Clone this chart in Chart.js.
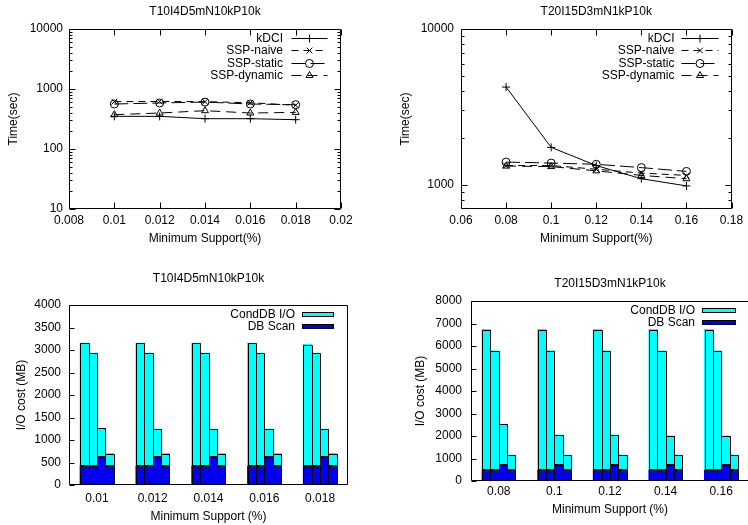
<!DOCTYPE html>
<html>
<head>
<meta charset="utf-8">
<title>SSP run time and I/O cost</title>
<script src="https://cdn.jsdelivr.net/npm/chart.js@4.4.1/dist/chart.umd.min.js"></script>
<style>
  html, body { margin: 0; padding: 0; background: #fff; overflow: hidden; }
  #page { position: relative; width: 748px; height: 525px; overflow: hidden; }
  .panel { position: absolute; }
</style>
</head>
<body>
<div id="page">
  <div class="panel" style="left:0;top:0;width:374px;height:262px"><canvas id="tl"></canvas></div>
  <div class="panel" style="left:374px;top:0;width:374px;height:262px"><canvas id="tr"></canvas></div>
  <div class="panel" style="left:0;top:262px;width:374px;height:263px"><canvas id="bl"></canvas></div>
  <div class="panel" style="left:374px;top:262px;width:378px;height:263px"><canvas id="br"></canvas></div>
</div>
<script>
// Run time, T10I4D5mN10kP10k
const tlSupport = [0.01, 0.012, 0.014, 0.016, 0.018];
const tlKdci    = [350, 350, 320, 320, 308];
const tlNaive   = [615, 620, 615, 590, 535];
const tlStatic  = [562, 585, 605, 562, 548];
const tlDynamic = [373, 398, 435, 398, 408];
const tlYTicks  = [10, 100, 1000, 10000];

// Run time, T20I15D3mN1kP10k
const trSupport = [0.08, 0.1, 0.12, 0.14, 0.16];
const trKdci    = [4240, 1740, 1330, 1095, 985];
const trNaive   = [1330, 1330, 1260, 1190, 1150];
const trStatic  = [1400, 1380, 1355, 1290, 1220];
const trDynamic = [1320, 1310, 1230, 1150, 1095];
const trYTicks  = [1000, 10000];

// I/O cost, T10I4D5mN10kP10k: four bars per support value
const blSupport  = ['0.01', '0.012', '0.014', '0.016', '0.018'];
const blScanBar1 = [415, 415, 415, 415, 415];
const blCondBar1 = [2735, 2735, 2735, 2735, 2705];
const blScanBar2 = [415, 415, 415, 415, 415];
const blCondBar2 = [2515, 2515, 2515, 2515, 2515];
const blScanBar3 = [615, 615, 615, 615, 615];
const blCondBar3 = [645, 625, 625, 625, 625];
const blScanBar4 = [415, 415, 415, 415, 415];
const blCondBar4 = [285, 285, 285, 285, 285];

// I/O cost, T20I15D3mN1kP10k
const brSupport  = ['0.08', '0.1', '0.12', '0.14', '0.16'];
const brScanBar1 = [475, 475, 475, 475, 475];
const brCondBar1 = [6255, 6255, 6255, 6255, 6255];
const brScanBar2 = [475, 475, 475, 475, 475];
const brCondBar2 = [5305, 5305, 5305, 5305, 5305];
const brScanBar3 = [710, 710, 710, 710, 710];
const brCondBar3 = [1810, 1330, 1330, 1290, 1290];
const brScanBar4 = [475, 475, 475, 475, 475];
const brCondBar4 = [675, 675, 675, 675, 675];

const FONT = '"Liberation Sans", Arial, Helvetica, sans-serif';
Chart.defaults.font.family = FONT;
Chart.defaults.font.size = 12;
Chart.defaults.color = '#000';
Chart.defaults.animation = false;

const CYAN = '#00ffff';
const BLUE = '#0000ee';

// crisp one-pixel outlines on the bars the library placed
const barOutline = {
    id: 'barOutline',
    afterDatasetsDraw: function (chart) {
        const ctx = chart.ctx;
        ctx.save();
        ctx.strokeStyle = '#000';
        ctx.lineWidth = 1;
        ctx.setLineDash([]);
        ctx.beginPath();
        chart.data.datasets.forEach(function (ds, i) {
            chart.getDatasetMeta(i).data.forEach(function (el) {
                const l = Math.round(el.x - el.width / 2), r = Math.round(el.x + el.width / 2);
                const t = Math.round(el.y), b = Math.round(el.base);
                ctx.rect(l + 0.5, t + 0.5, r - l, b - t - 1);
            });
        });
        ctx.stroke();
        ctx.restore();
    }
};

// gnuplot-like frame: box round the plot, ticks pointing inward
const gnuFrame = {
    id: 'gnuFrame',
    afterDatasetsDraw: function (chart, args, opts) {
        const ctx = chart.ctx;
        const a = chart.chartArea;
        const xs = chart.scales.x;
        const ys = chart.scales.y;
        const L = Math.round(a.left) + 0.5, R = Math.round(a.right) - 0.5;
        const T = Math.round(a.top) + 0.5, B = Math.round(a.bottom) - 0.5;
        ctx.save();
        ctx.strokeStyle = '#000';
        ctx.lineWidth = 1;
        ctx.setLineDash([]);
        ctx.beginPath();
        const yTick = function (v, len) {
            const py = Math.round(ys.getPixelForValue(v)) + 0.5;
            ctx.moveTo(L, py); ctx.lineTo(L + len, py);
            if (opts.mirror) { ctx.moveTo(R, py); ctx.lineTo(R - len, py); }
        };
        ys.ticks.forEach(function (t) { yTick(t.value, opts.major); });
        if (opts.logMinor) {
            for (let d = Math.pow(10, Math.floor(Math.log10(ys.min))); d < ys.max; d *= 10) {
                for (let k = 2; k <= 9; k++) {
                    const v = d * k;
                    if (v > ys.min && v < ys.max) yTick(v, opts.minor);
                }
            }
        }
        if (opts.xTicks) {
            xs.ticks.forEach(function (t) {
                const px = Math.round(xs.getPixelForValue(t.value)) + 0.5;
                ctx.moveTo(px, B); ctx.lineTo(px, B - opts.major);
                ctx.moveTo(px, T); ctx.lineTo(px, T + opts.major);
            });
        }
        ctx.moveTo(L, T); ctx.lineTo(R, T); ctx.lineTo(R, B); ctx.lineTo(L, B); ctx.closePath();
        ctx.stroke();
        ctx.restore();
    }
};

// gnuplot-like key: right aligned text, sample to its right
const gnuKey = {
    id: 'gnuKey',
    afterDraw: function (chart, args, opts) {
        const ctx = chart.ctx;
        const a = chart.chartArea;
        let items = [];
        chart.data.datasets.forEach(function (ds) {
            if (!items.some(function (d) { return d.label === ds.label; })) items.push(ds);
        });
        if (opts.reverse) items = items.reverse();
        ctx.save();
        ctx.font = '12px ' + FONT;
        ctx.textAlign = 'right';
        ctx.textBaseline = 'middle';
        items.forEach(function (ds, i) {
            const y = Math.round(a.top + opts.top + i * opts.step) + 0.5;
            const x0 = Math.round(a.right - opts.sampleFrom) + 0.5, x1 = Math.round(a.right - opts.sampleTo) + 0.5;
            ctx.fillStyle = '#000';
            ctx.fillText(ds.label, a.right - opts.textRight, y);
            ctx.strokeStyle = '#000';
            ctx.lineWidth = 1;
            if (opts.boxes) {
                ctx.setLineDash([]);
                ctx.fillStyle = ds.backgroundColor;
                ctx.fillRect(x0, y - 2, x1 - x0, 4);
                ctx.strokeRect(x0, y - 2, x1 - x0, 4);
            } else {
                ctx.setLineDash(ds.borderDash || []);
                ctx.beginPath();
                ctx.moveTo(x0, y); ctx.lineTo(x1, y);
                ctx.stroke();
                ctx.setLineDash([]);
                ctx.fillStyle = 'rgba(0,0,0,0)';
                Chart.helpers.drawPoint(ctx, {
                    pointStyle: ds.pointStyle, rotation: 0, radius: ds.pointRadius, borderWidth: 1
                }, (x0 + x1) / 2, y);
            }
        });
        ctx.restore();
    }
};

function points(xs, ys) {
    return xs.map(function (x, i) { return { x: x, y: ys[i] }; });
}

function lineSet(label, xs, ys, dash, style) {
    return {
        label: label,
        data: points(xs, ys),
        borderColor: '#000',
        borderWidth: 1,
        borderDash: dash,
        pointStyle: style,
        pointRadius: 4,
        pointBorderColor: '#000',
        pointBackgroundColor: 'rgba(0,0,0,0)',
        pointBorderWidth: 1,
        tension: 0,
        fill: false
    };
}

function barPair(stack, scan, cond) {
    const common = { stack: stack, borderWidth: 0, inflateAmount: 0.5,
                     categoryPercentage: 0.6, barPercentage: 1.0 };
    return [
        Object.assign({ label: 'DB Scan', data: scan, backgroundColor: BLUE }, common),
        Object.assign({ label: 'CondDB I/O', data: cond, backgroundColor: CYAN }, common)
    ];
}

function baseOptions(title, lay) {
    return {
        responsive: true,
        maintainAspectRatio: false,
        layout: { padding: { left: 0, right: lay.padRight, top: 0, bottom: 0 } },
        plugins: {
            legend: { display: false },
            tooltip: { enabled: false },
            title: {
                display: true, text: title, fullSize: false,
                font: { size: 12, weight: 'normal' },
                padding: lay.titlePad
            },
            gnuKey: lay.key,
            gnuFrame: lay.frame
        }
    };
}

function xTitleAxis(lay, text) {
    return {
        grid: { display: false, drawTicks: false },
        border: { display: false },
        ticks: { padding: lay.xTickPad, maxRotation: 0, autoSkip: false },
        title: { display: true, text: text, font: { size: 12 }, padding: { top: 0, bottom: lay.xTitlePad } },
        afterFit: function (scale) { scale.height = lay.xHeight; }
    };
}

function yTitleAxis(lay, text) {
    return {
        grid: { display: false, drawTicks: false },
        border: { display: false },
        title: { display: true, text: text, font: { size: 12 }, padding: { top: lay.yTitlePad, bottom: 0 } },
        afterFit: function (scale) { scale.width = lay.yWidth; }
    };
}

function runtimeChart(id, title, xs, kdci, naive, stat, dyn, xr, yr, yTicks, lay) {
    const opts = baseOptions(title, lay);
    const x = xTitleAxis(lay, 'Minimum Support(%)');
    x.type = 'linear';
    x.min = xr[0]; x.max = xr[1];
    x.ticks.stepSize = xr[2];
    x.ticks.callback = function (v) { return String(+v.toFixed(3)); };
    const y = yTitleAxis(lay, 'Time(sec)');
    y.type = 'logarithmic';
    y.min = yr[0]; y.max = yr[1];
    y.ticks = { padding: lay.yTickPad, callback: function (v) { return String(v); } };
    y.afterBuildTicks = function (scale) {
        scale.ticks = yTicks.map(function (v) { return { value: v }; });
    };
    opts.scales = { x: x, y: y };
    return new Chart(document.getElementById(id), {
        type: 'line',
        data: {
            datasets: [
                lineSet('kDCI', xs, kdci, [], 'cross'),
                lineSet('SSP-naive', xs, naive, [7, 5], 'crossRot'),
                lineSet('SSP-static', xs, stat, [14, 5], 'circle'),
                lineSet('SSP-dynamic', xs, dyn, [10, 6], 'triangle')
            ]
        },
        options: opts,
        plugins: [gnuFrame, gnuKey]
    });
}

function ioChart(id, title, labels, bars, yMax, yStep, lay) {
    const opts = baseOptions(title, lay);
    const x = xTitleAxis(lay, 'Minimum Support (%)');
    x.type = 'category';
    x.stacked = true;
    x.offset = true;
    const y = yTitleAxis(lay, 'I/O cost (MB)');
    y.type = 'linear';
    y.stacked = true;
    y.min = 0; y.max = yMax;
    y.ticks = { padding: lay.yTickPad, stepSize: yStep, callback: function (v) { return String(v); } };
    opts.scales = { x: x, y: y };
    let datasets = [];
    bars.forEach(function (b, i) { datasets = datasets.concat(barPair('bar' + i, b[0], b[1])); });
    return new Chart(document.getElementById(id), {
        type: 'bar',
        data: { labels: labels, datasets: datasets },
        options: opts,
        plugins: [barOutline, gnuFrame, gnuKey]
    });
}

document.addEventListener('DOMContentLoaded', function () {
    const lineKey = { top: 9, step: 12.3, sampleTo: 14 };
    const lineFrame = { major: 6, minor: 3, mirror: true, logMinor: true, xTicks: true };
    const barFrame = { major: 5, minor: 0, mirror: false, logMinor: false, xTicks: false };

    runtimeChart('tl', 'T10I4D5mN10kP10k', tlSupport, tlKdci, tlNaive, tlStatic, tlDynamic,
        [0.008, 0.02, 0.002], [10, 10000], tlYTicks, {
            padRight: 33, titlePad: { top: 4.8, bottom: 9.8 },
            yWidth: 69, yTickPad: 6, yTitlePad: 6.8,
            xHeight: 53, xTickPad: 4.8, xTitlePad: 15.8,
            key: Object.assign({ textRight: 58, sampleFrom: 50 }, lineKey),
            frame: lineFrame
        });

    runtimeChart('tr', 'T20I15D3mN1kP10k', trSupport, trKdci, trNaive, trStatic, trDynamic,
        [0.06, 0.18, 0.02], [700, 10000], trYTicks, {
            padRight: 15, titlePad: { top: 4.8, bottom: 9.8 },
            yWidth: 87, yTickPad: 7, yTitlePad: 24.8,
            xHeight: 53, xTickPad: 4.8, xTitlePad: 15.8,
            key: Object.assign({ textRight: 57, sampleFrom: 51 }, lineKey),
            frame: lineFrame
        });

    ioChart('bl', 'T10I4D5mN10kP10k', blSupport, [
            [blScanBar1, blCondBar1], [blScanBar2, blCondBar2],
            [blScanBar3, blCondBar3], [blScanBar4, blCondBar4]
        ], 4000, 500, {
            padRight: 26, titlePad: { top: 9.5, bottom: 19.1 },
            yWidth: 69, yTickPad: 8, yTitlePad: 14.5,
            xHeight: 40, xTickPad: 6.8, xTitlePad: 0.8,
            key: { textRight: 53, sampleFrom: 46, sampleTo: 15, top: 9, step: 12, boxes: true, reverse: true },
            frame: barFrame
        });

    ioChart('br', 'T20I15D3mN1kP10k', brSupport, [
            [brScanBar1, brCondBar1], [brScanBar2, brCondBar2],
            [brScanBar3, brCondBar3], [brScanBar4, brCondBar4]
        ], 8000, 1000, {
            padRight: 3, titlePad: { top: 14.5, bottom: 10.1 },
            yWidth: 97, yTickPad: 9, yTitlePad: 39.8,
            xHeight: 44, xTickPad: 3.8, xTitlePad: 7.8,
            key: { textRight: 54, sampleFrom: 47, sampleTo: 14, top: 9, step: 12, boxes: true, reverse: true },
            frame: barFrame
        });
});
</script>
</body>
</html>
